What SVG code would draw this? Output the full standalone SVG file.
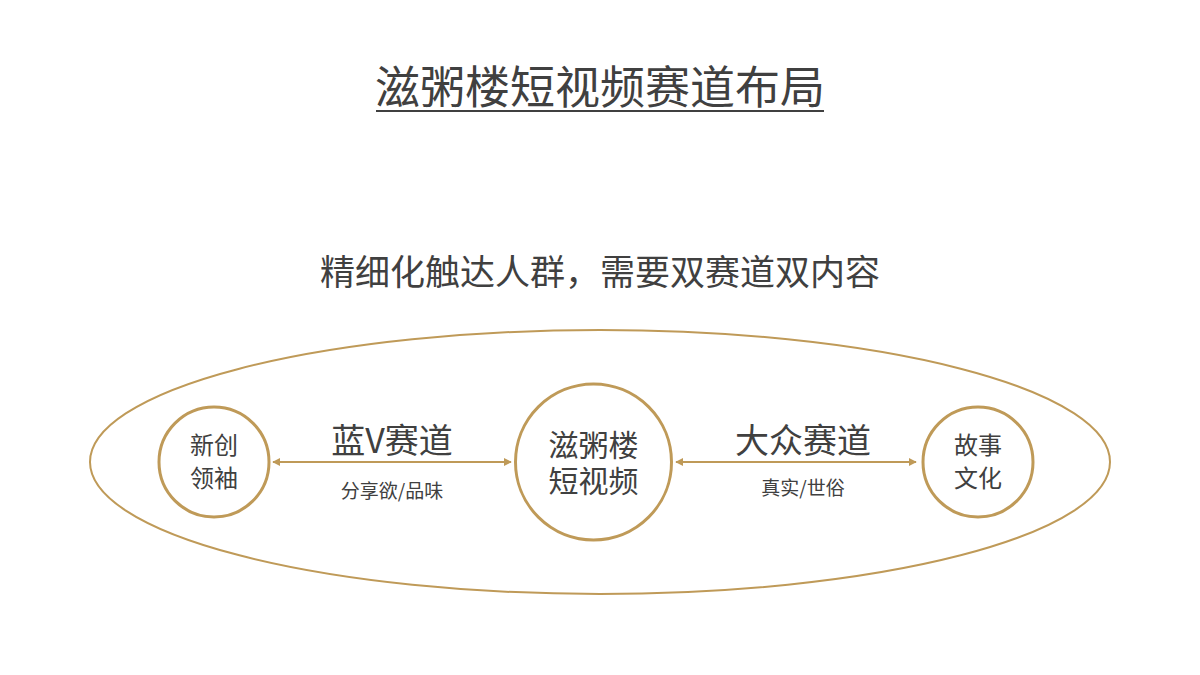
<svg xmlns="http://www.w3.org/2000/svg" width="1200" height="675" viewBox="0 0 1200 675">
<style>
.t{font-family:"Noto Sans CJK SC","Liberation Sans",sans-serif;fill:#404040;text-anchor:middle}
.ring{fill:#fff;stroke:#BF9A58;stroke-width:3}
.conn{stroke:#BF9A58;stroke-width:2;fill:none}
</style>
<defs>
<marker id="ah" viewBox="0 0 10 10" refX="9" refY="5" markerWidth="8" markerHeight="8" orient="auto-start-reverse" markerUnits="userSpaceOnUse">
<path d="M0,0 L10,5 L0,10 z" fill="#BF9A58"/>
</marker>
</defs>
<rect width="1200" height="675" fill="#fff"/>
<g id="title">
<text class="t" x="600" y="104" font-size="45">滋粥楼短视频赛道布局</text>
<line x1="376" y1="111" x2="824" y2="111" stroke="#404040" stroke-width="2"/>
</g>
<g id="subtitle">
<text class="t" x="600" y="285" font-size="35">精细化触达人群，需要双赛道双内容</text>
</g>
<g id="outer">
<ellipse cx="600" cy="462" rx="510" ry="132" fill="none" stroke="#BF9A58" stroke-width="2"/>
</g>
<g id="connectors">
<line class="conn" x1="273" y1="462" x2="511" y2="462" marker-start="url(#ah)" marker-end="url(#ah)"/>
<line class="conn" x1="676" y1="462" x2="916" y2="462" marker-start="url(#ah)" marker-end="url(#ah)"/>
<text class="t" x="392" y="453" font-size="34">蓝V赛道</text>
<text class="t" x="392" y="498" font-size="19">分享欲/品味</text>
<text class="t" x="803" y="453" font-size="34">大众赛道</text>
<text class="t" x="803" y="495" font-size="19">真实/世俗</text>
</g>
<g id="node-left">
<circle class="ring" cx="214" cy="462" r="55"/>
<text class="t" x="214" y="454" font-size="24">新创</text>
<text class="t" x="214" y="487" font-size="24">领袖</text>
</g>
<g id="node-center">
<circle class="ring" cx="593.5" cy="462" r="78"/>
<text class="t" x="593.5" y="456" font-size="30">滋粥楼</text>
<text class="t" x="593.5" y="492" font-size="30">短视频</text>
</g>
<g id="node-right">
<circle class="ring" cx="978" cy="462" r="55"/>
<text class="t" x="978" y="454" font-size="24">故事</text>
<text class="t" x="978" y="487" font-size="24">文化</text>
</g>
</svg>
